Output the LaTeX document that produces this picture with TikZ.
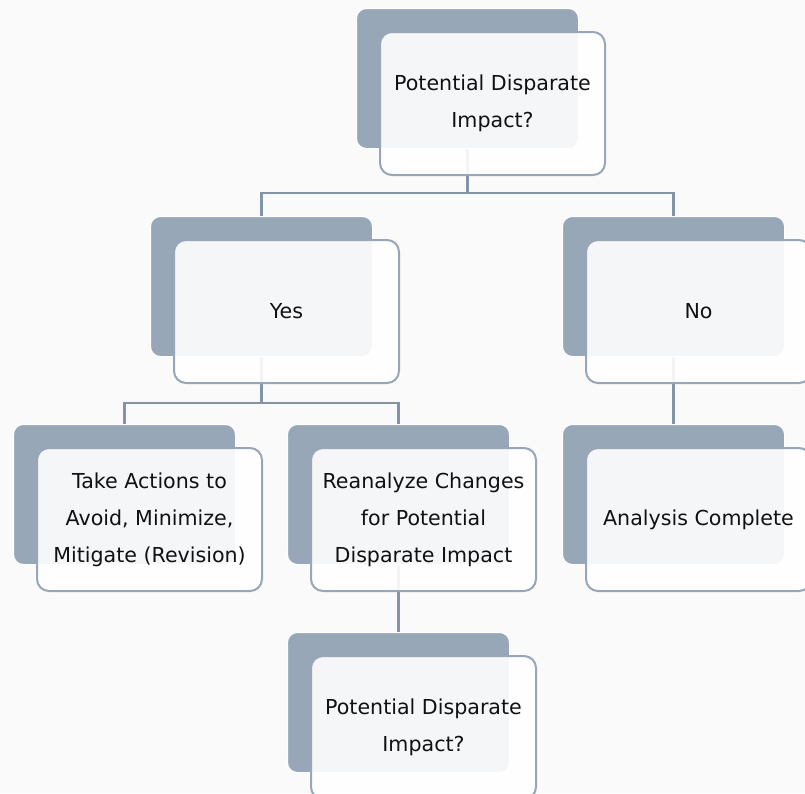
\documentclass[tikz,border=0pt]{standalone}
\usepackage{fontspec}
\setmainfont{DejaVu Sans}
\definecolor{bgc}{HTML}{FAFAFA}
\definecolor{backc}{HTML}{97A7B8}
\definecolor{framec}{HTML}{97A7B8}
\definecolor{linec}{HTML}{8494A7}
\definecolor{textc}{HTML}{111111}
\tikzset{
  backbox/.style={draw=white, line width=1pt, fill=backc, rounded corners=10pt,
    minimum width=222pt, minimum height=140pt, anchor=north west, inner sep=0pt},
  frontbox/.style={draw=framec, line width=2pt, fill=white, fill opacity=0.9, text opacity=1,
    rounded corners=12pt, minimum width=225pt, minimum height=143pt, anchor=north west,
    inner sep=0pt, align=center, text=textc, font=\fontsize{20.6}{37}\selectfont},
  conn/.style={draw=linec, line width=2.4pt}
}
\begin{document}
\begin{tikzpicture}[x=1pt,y=-1pt]
\fill[bgc] (0,0) rectangle (805,793);
\useasboundingbox (0,0) rectangle (805,793);
\clip (0,0) rectangle (805,793);
% back boxes
\node[backbox] (topb) at (356,8) {};
\node[backbox] (yesb) at (150,216) {};
\node[backbox] (nob) at (562,216) {};
\node[backbox] (takeb) at (13,424) {};
\node[backbox] (reanb) at (287,424) {};
\node[backbox] (analb) at (562,424) {};
\node[backbox] (potb) at (287,632) {};
% junctions
\coordinate (j1) at (0,193);
\coordinate (j2) at (0,403);
% connectors
\draw[conn] (topb.south) -- (topb.south |- j1) -| (yesb.north);
\draw[conn] (topb.south |- j1) -| (nob.north);
\draw[conn] (yesb.south) -- (yesb.south |- j2) -| (takeb.north);
\draw[conn] (yesb.south |- j2) -| (reanb.north);
\draw[conn] (nob.south) -- (analb.north);
\draw[conn] (reanb.south) -- (potb.north);
% front boxes
\node[frontbox] (topf) at (379,31) {Potential Disparate\\Impact?};
\node[frontbox] (yesf) at (173,239) {Yes};
\node[frontbox] (nof) at (585,239) {No};
\node[frontbox] (takef) at (36,447) {Take Actions to\\Avoid, Minimize,\\Mitigate (Revision)};
\node[frontbox] (reanf) at (310,447) {Reanalyze Changes\\for Potential\\Disparate Impact};
\node[frontbox] (analf) at (585,447) {Analysis Complete};
\node[frontbox] (potf) at (310,655) {Potential Disparate\\Impact?};
\end{tikzpicture}
\end{document}
